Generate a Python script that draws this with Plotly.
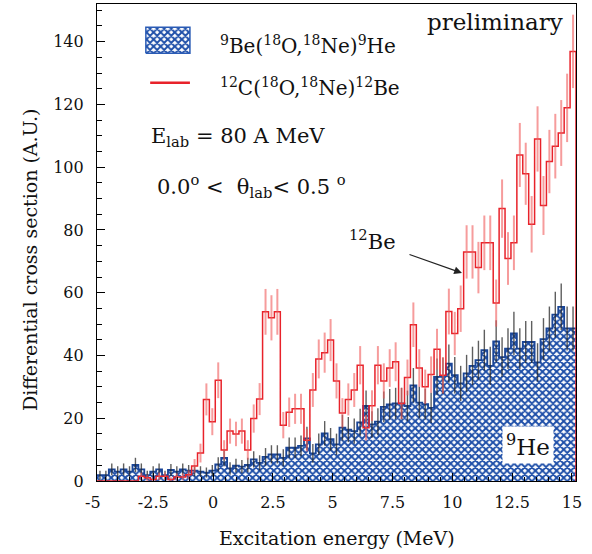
import numpy as np
import plotly.graph_objects as go

# ---------------- data ----------------
E_MIN, E_MAX = -4.85, 15.17   # histogram / axis span (MeV)

he9_counts = [1.9, 1.9, 3.7, 3.0, 3.7, 3.0, 5.1, 3.7, 1.9, 3.0, 3.7, 1.9, 3.5, 3.0, 3.7, 3.3, 3.3, 3.0,
              2.7, 3.3, 5.3, 7.4, 4.0, 4.9, 4.6, 5.1, 6.9, 5.8, 7.7, 8.5, 8.5, 7.4, 10.6, 10.6, 11.2, 13.6,
              8.8, 11.7, 15.2, 13.3,
              11.7, 17.0, 16.4, 15.9, 18.7, 23.9, 18.0, 18.9, 23.6, 24.4, 24.7, 24.7, 23.9, 30.5, 25.0,
              24.5, 23.3, 33.2, 33.5, 37.4,
              33.7, 31.1, 34.3, 36.7, 38.5, 41.7, 36.7, 44.5, 39.5, 42.2, 47.0, 42.2, 44.3, 44.3, 37.8,
              45.2, 48.6, 53.0, 55.5, 48.6, 48.6]
he9_err = [1.4, 1.4, 1.9, 1.7, 1.9, 1.7, 2.3, 1.9, 1.4, 1.7, 1.9, 1.4, 1.9, 1.7, 1.9, 1.8, 1.8, 1.7,
           1.6, 1.8, 2.3, 2.7, 2.0, 2.2, 2.1, 2.3, 2.6, 2.4, 2.8, 2.9, 2.9, 2.7, 3.3, 3.3, 3.3, 3.7,
           3.0, 3.4, 3.9, 3.6,
           3.4, 4.1, 4.0, 4.0, 4.3, 4.9, 4.2, 4.3, 4.9, 4.9, 5.0, 5.0, 4.9, 5.5, 5.0,
           4.9, 4.8, 5.8, 5.8, 6.1,
           5.8, 5.6, 5.9, 6.1, 6.2, 6.5, 6.1, 6.7, 6.3, 6.5, 6.9, 6.5, 6.7, 6.7, 6.1,
           6.7, 7.0, 7.3, 7.4, 7.0, 7.0]

be12_counts = [0, 0, 0, 0, 0, 0, 0, 1.5, 1.0, 0.5, 1.5, 1.5, 0.5, 1.3, 1.3, 2.0, 4.8, 8.9,
               26.0, 18.9, 32.1, 9.9, 15.9, 15.0, 15.9, 9.9, 19.9, 26.1, 53.9, 52.0, 53.9, 17.8, 21.9,
               23.0, 23.0, 13.0, 29.0, 38.9, 40.9, 44.9,
               31.9, 21.7, 26.0, 29.0, 36.9, 17.0, 24.0, 36.9, 31.9, 36.0, 38.0, 24.7, 33.0, 49.8, 36.0,
               30.0, 33.9, 42.0, 33.7, 54.0,
               47.0, 54.9, 73.0, 73.0, 68.0, 75.9, 75.9, 56.7, 86.8, 70.9, 75.9, 103.9, 97.9, 81.8,
               109.0, 87.8, 101.8, 106.7, 110.9, 118.9, 136.9]
be12_err = [0, 0, 0, 0, 0, 0, 0, 1.2, 1.0, 0.7, 1.2, 1.2, 0.7, 1.1, 1.1, 1.4, 2.2, 3.0,
            5.1, 4.3, 5.7, 3.1, 4.0, 3.9, 4.0, 3.1, 4.5, 5.1, 7.3, 7.2, 7.3, 4.2, 4.7,
            4.8, 4.8, 3.6, 5.4, 6.2, 6.4, 6.7,
            5.6, 4.7, 5.1, 5.4, 6.1, 4.1, 4.9, 6.1, 5.6, 6.0, 6.2, 5.0, 5.7, 7.1, 6.0,
            5.5, 5.8, 6.5, 5.8, 7.3,
            6.9, 7.4, 8.5, 8.5, 8.2, 8.7, 8.7, 7.5, 9.3, 8.4, 8.7, 10.2, 9.9, 9.0,
            10.4, 9.4, 10.1, 10.3, 10.5, 10.9, 11.7]

x_tick_vals = [-2.5, 0, 2.5, 5, 7.5, 10, 12.5, 15]
x_tick_text = ["-2.5", "0", "2.5", "5", "7.5", "10", "12.5", "15"]
y_tick_vals = [0, 20, 40, 60, 80, 100, 120, 140]

# ---------------- geometry derived from the data ----------------
n = len(he9_counts)
edges = np.linspace(E_MIN, E_MAX, n + 1)
centers = 0.5 * (edges[:-1] + edges[1:])

he_x = list(edges)
he_y = list(he9_counts) + [he9_counts[-1]]
be_x = list(edges) + [edges[-1]]
be_y = list(be12_counts) + [be12_counts[-1], 0]

FONT = "DejaVu Serif"
BLUE = "#1d4ea8"
RED = "#e8222a"
PATTERN = dict(shape="x", fgcolor=BLUE, bgcolor="white", size=5, solidity=0.62, fgopacity=1)

fig = go.Figure()

# 9He histogram (crosshatched fill)
fig.add_trace(go.Scatter(
    x=he_x, y=he_y, mode="lines", line=dict(shape="hv", color="#1a4596", width=1.8),
    fill="tozeroy", fillcolor="rgba(0,0,0,0)", fillpattern=PATTERN,
    showlegend=False, hoverinfo="skip"))
# 9He error bars
fig.add_trace(go.Scatter(
    x=centers, y=he9_counts, mode="markers", marker=dict(size=1, opacity=0),
    error_y=dict(type="data", array=he9_err, visible=True, color="rgba(40,40,40,0.75)",
                 thickness=1.4, width=0),
    showlegend=False, hoverinfo="skip"))
# 12Be histogram (red steps)
fig.add_trace(go.Scatter(
    x=be_x, y=be_y, mode="lines", line=dict(shape="hv", color=RED, width=1.5),
    showlegend=False, hoverinfo="skip"))
fig.add_trace(go.Scatter(
    x=centers, y=be12_counts, mode="markers", marker=dict(size=1, opacity=0),
    error_y=dict(type="data", array=be12_err, visible=True, color="rgba(240,90,90,0.6)",
                 thickness=2, width=0),
    showlegend=False, hoverinfo="skip"))

# legend symbols on an overlay axis in plot-fraction units
fig.add_trace(go.Scatter(
    x=[0.102, 0.194, 0.194, 0.102, 0.102], y=[0.897, 0.897, 0.951, 0.951, 0.897],
    xaxis="x2", yaxis="y2", mode="lines", line=dict(color="#2a5bb5", width=1.5),
    fill="toself", fillcolor="rgba(0,0,0,0)", fillpattern=PATTERN,
    showlegend=False, hoverinfo="skip"))
fig.add_trace(go.Scatter(
    x=[0.111, 0.194], y=[0.835, 0.835], xaxis="x2", yaxis="y2", mode="lines",
    line=dict(color=RED, width=2.5), showlegend=False, hoverinfo="skip"))

ann = []
def txt(x, y, s, size=20, xanchor="left", yanchor="middle", **kw):
    ann.append(dict(x=x, y=y, xref="paper", yref="paper", text=s, showarrow=False,
                    xanchor=xanchor, yanchor=yanchor, font=dict(family=FONT, size=size, color="#111"), **kw))

txt(0.2526, 0.915, "<sup>9</sup>Be(<sup>18</sup>O,<sup>18</sup>Ne)<sup>9</sup>He", 20)
txt(0.2526, 0.827, "<sup>12</sup>C(<sup>18</sup>O,<sup>18</sup>Ne)<sup>12</sup>Be", 20)
txt(0.108, 0.722, "E<sub>lab</sub> = 80 A MeV", 21)
txt(0.122, 0.618, "0.0<sup>o</sup> <  θ<sub>lab</sub>< 0.5 <sup>o</sup>", 21)
txt(0.522, 0.505, "<sup>12</sup>Be", 21)
txt(0.978, 0.962, "preliminary", 23, xanchor="right")
txt(0.955, 0.075, "<sup>9</sup>He", 23, xanchor="right", bgcolor="white", borderpad=3)
# -5 tick label (sits just left of the frame, as in the original)
txt(-0.0075, 0.0, "-5", 16, xanchor="center", yanchor="top", yshift=-10)
# axis titles
txt(0.5, -0.092, "Excitation energy (MeV)", 19, xanchor="center", yanchor="top")
ann.append(dict(x=-0.14, y=0.463, xref="paper", yref="paper", text="Differential cross section (A.U.)",
                showarrow=False, textangle=-90, xanchor="center", yanchor="middle",
                font=dict(family=FONT, size=19, color="#111")))
# arrow pointing at the 12Be spectrum
ann.append(dict(x=0.762, y=0.436, xref="paper", yref="paper", ax=-54, ay=-19, text="",
                showarrow=True, arrowhead=2, arrowsize=1.3, arrowwidth=1.2, arrowcolor="#222"))

axis_common = dict(showline=True, linecolor="black", linewidth=1.2, mirror=True,
                   ticks="inside", ticklen=8, tickcolor="black", tickwidth=1,
                   showgrid=False, zeroline=False,
                   tickfont=dict(family=FONT, size=16, color="#111"))

fig.update_layout(
    width=592, height=554,
    margin=dict(l=97, r=16, t=4, b=73),
    paper_bgcolor="white", plot_bgcolor="white",
    xaxis=dict(range=[E_MIN, E_MAX], tickvals=x_tick_vals, ticktext=x_tick_text,
               minor=dict(ticks="inside", ticklen=4, dtick=0.5, tick0=0, tickcolor="black"),
               ticklabelstandoff=7, **axis_common),
    yaxis=dict(range=[0, 152], tickvals=y_tick_vals,
               minor=dict(ticks="inside", ticklen=5, dtick=5, tick0=0, tickcolor="black"),
               ticklabelstandoff=9, **axis_common),
    xaxis2=dict(range=[0, 1], overlaying="x", anchor="y2", visible=False),
    yaxis2=dict(range=[0, 1], overlaying="y", anchor="x2", visible=False),
    annotations=ann,
    showlegend=False,
)

fig.write_html("out.html")
